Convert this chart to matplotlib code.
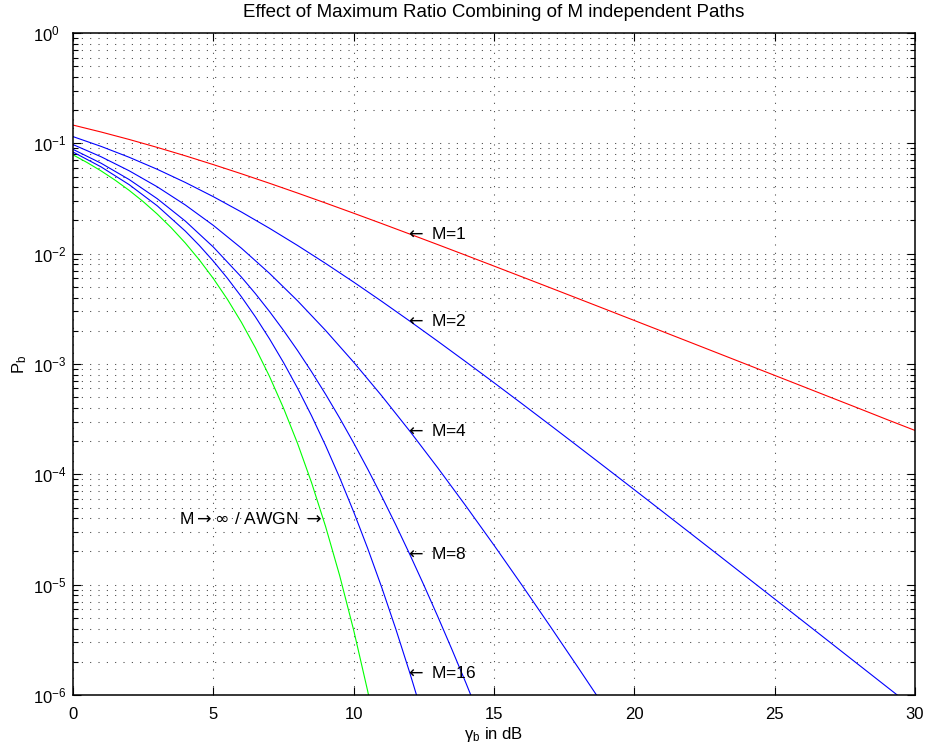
import numpy as np
import matplotlib
matplotlib.use('Agg')
import matplotlib.pyplot as plt
from matplotlib.ticker import LogLocator, NullFormatter

plt.rcParams['font.family'] = ['Liberation Sans', 'DejaVu Sans']
plt.rcParams['mathtext.fontset'] = 'custom'
plt.rcParams['mathtext.rm'] = 'Liberation Sans'
plt.rcParams['mathtext.it'] = 'Liberation Sans:italic'
plt.rcParams['mathtext.bf'] = 'Liberation Sans:bold'

# ---- data ----
db_m1 = list(range(0, 31))
pb_m1 = [0.14645, 0.12673, 0.10849, 0.09191, 0.07714, 0.06418, 0.05300, 0.04348,
         0.03546, 0.02878, 0.02327, 0.01875, 0.01506, 0.01208, 0.009666, 0.007723,
         0.006164, 0.004915, 0.003916, 0.003118, 0.002481, 0.001974, 0.001570,
         0.001248, 0.000992, 0.000789, 0.000627, 0.000498, 0.000396, 0.000314, 0.00025]

db_m2 = list(range(0, 31))
pb_m2 = [0.1151, 0.09387, 0.07481, 0.05822, 0.04424, 0.03286, 0.02387, 0.016994,
         0.011874, 0.008161, 0.005528, 0.003698, 0.002448, 0.001606, 0.001046,
         0.000677, 0.0004361, 0.0002797, 0.00017884, 0.00011404, 7.256e-5, 4.610e-5,
         2.924e-5, 1.853e-5, 1.1730e-5, 7.422e-6, 4.693e-6, 2.966e-6, 1.874e-6,
         1.1837e-6, 7.475e-7]

db_m4 = list(range(0, 21))
pb_m4 = [0.09751, 0.07562, 0.05644, 0.04040, 0.02765, 0.018050, 0.011218, 0.006637,
         0.003742, 0.0020147, 0.0010387, 0.0005148, 0.0002463, 0.00011428, 5.161e-5,
         2.2793e-5, 9.866e-6, 4.2045e-6, 1.7698e-6, 7.366e-7, 3.04e-7]

db_m8 = [0, 1, 2, 3, 4, 5, 6, 6.5, 7, 7.5, 8, 8.5, 9, 9.5, 10, 10.5, 11, 11.5,
         12, 12.5, 13, 13.5, 14, 15]
pb_m8 = [0.088232, 0.066066, 0.047010, 0.031524, 0.019766, 0.011488, 0.0061389,
         0.0043403, 0.0029951, 0.0020180, 0.0013266, 0.00085051, 0.00053166,
         0.00032396, 0.00019256, 0.00011160, 6.3132e-5, 3.4860e-5, 1.8805e-5,
         9.9200e-6, 5.1207e-6, 2.5901e-6, 1.2848e-6, 2.994e-7]

db_m16 = [0, 1, 2, 3, 4, 4.5, 5, 5.5, 6, 6.5, 7, 7.5, 8, 8.5, 9, 9.5, 10, 10.5,
          11, 11.5, 12, 12.5, 13]
pb_m16 = [0.083501, 0.061200, 0.042255, 0.027166, 0.016033, 0.011877, 0.0085629,
          0.0059956, 0.0040699, 0.0026722, 0.0016924, 0.0010316, 0.00060423,
          0.00033921, 0.00018226, 9.3496e-5, 4.5717e-5, 2.1294e-5, 9.4354e-6,
          3.9712e-6, 1.5877e-6, 6.027e-7, 2.174e-7]

db_awgn = [0, 0.5, 1, 1.5, 2, 2.5, 3, 3.5, 4, 4.5, 5, 5.5, 6, 6.5, 7, 7.5, 8, 8.5,
           9, 9.5, 10, 10.5, 11]
pb_awgn = [0.078650, 0.067065, 0.056282, 0.046401, 0.037506, 0.029653, 0.022878,
           0.017171, 0.012501, 0.0087932, 0.0059539, 0.0038623, 0.0023883,
           0.0013997, 7.7267e-4, 3.9876e-4, 1.9091e-4, 8.403e-5, 3.3627e-5,
           1.2112e-5, 3.8721e-6, 1.0840e-6, 2.6131e-7]

diversity_labels = ['M=1', 'M=2', 'M=4', 'M=8', 'M=16']
awgn_label = r'M${\rightarrow}{\infty}$ / AWGN ${\rightarrow}$'
awgn_label_pos = (8.85, 3.9e-5)
label_x_db = 12

xticks = [0, 5, 10, 15, 20, 25, 30]
yticks = [1e-6, 1e-5, 1e-4, 1e-3, 1e-2, 1e-1, 1e0]
ytick_labels = [r'$10^{-6}$', r'$10^{-5}$', r'$10^{-4}$', r'$10^{-3}$',
                r'$10^{-2}$', r'$10^{-1}$', r'$10^{0}$']

# ---- figure ----
fig = plt.figure(figsize=(9.29, 7.49), dpi=100)
ax = fig.add_axes([0.0786, 0.0721, 0.9063, 0.8838])

lw = 0.8
xs = [db_m1, db_m2, db_m4, db_m8, db_m16]
series = [pb_m1, pb_m2, pb_m4, pb_m8, pb_m16]
colors = ['#ff0000', '#0000ff', '#0000ff', '#0000ff', '#0000ff']
for x, s, c in zip(xs, series, colors):
    ax.plot(x, s, color=c, lw=lw)
ax.plot(db_awgn, pb_awgn, color='#00ff00', lw=lw)

ax.set_yscale('log')
ax.set_xlim(0, 30)
ax.set_ylim(1e-6, 1)
ax.set_xticks(xticks)
ax.set_xticklabels([str(v) for v in xticks])
ax.set_yticks(yticks)
ax.set_yticklabels(ytick_labels)
ax.yaxis.set_minor_locator(LogLocator(base=10, subs=np.arange(2, 10), numticks=20))
ax.yaxis.set_minor_formatter(NullFormatter())

grid_kw = dict(color='0.25', linestyle=(0, (1, 7)), linewidth=0.75)
ax.grid(True, which='major', axis='both', **grid_kw)
ax.grid(True, which='minor', axis='y', **grid_kw)

for sp in ax.spines.values():
    sp.set_linewidth(1.1)

ax.tick_params(which='both', direction='in', top=True, right=True, width=0.8)
ax.tick_params(which='major', length=6)
ax.tick_params(which='minor', length=3.5)
ax.tick_params(axis='x', labelsize=12, pad=8.6)
ax.tick_params(axis='y', labelsize=12, pad=28.6)
for lbl in ax.get_yticklabels():
    lbl.set_horizontalalignment('left')

ax.set_title('Effect of Maximum Ratio Combining of M independent Paths',
             fontsize=13.5, pad=11.5)
ax.set_xlabel('\u03b3$_\\mathrm{b}$ in dB', fontsize=12)
ax.xaxis.set_label_coords(0.5, -0.045)
ax.xaxis.label.set_verticalalignment('top')
ax.set_ylabel('P$_\\mathrm{b}$', fontsize=12)
ax.yaxis.set_label_coords(-0.052, 0.5)

for x, s, lab in zip(xs, series, diversity_labels):
    yv = s[x.index(label_x_db)]
    ax.annotate(r'${\leftarrow}$ ' + lab, xy=(label_x_db, yv), xytext=(-3.5, 0),
                textcoords='offset points', fontsize=12.5, ha='left', va='center',
                math_fontfamily='dejavusans')
ax.text(awgn_label_pos[0], awgn_label_pos[1], awgn_label, fontsize=12.5,
        ha='right', va='center', math_fontfamily='dejavusans')

fig.savefig('out.png', dpi=100)
